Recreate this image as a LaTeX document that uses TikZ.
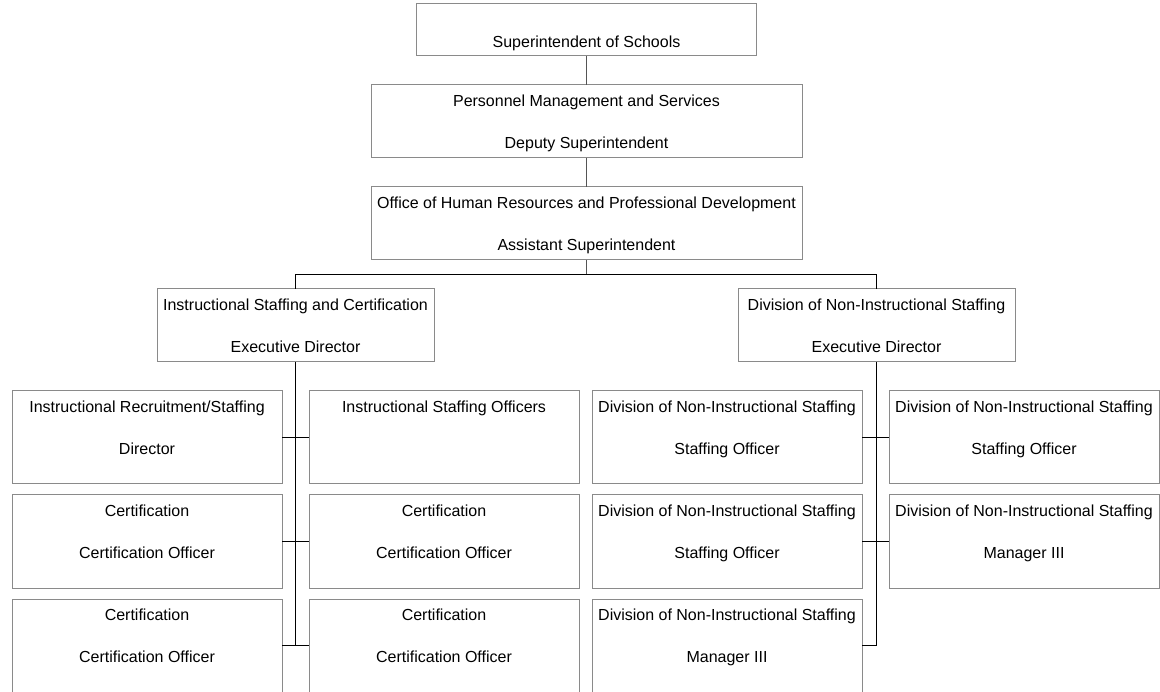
\documentclass[tikz,border=0pt]{standalone}
\usepackage{fontspec}
\setmainfont{Liberation Sans}
\definecolor{boxline}{HTML}{8A8A8A}
\definecolor{uplink}{HTML}{555555}
\tikzset{
  x=1pt, y=-1pt,
  box/.style={draw=boxline, line width=1pt, fill=white, rectangle,
    inner sep=0pt, outer sep=0pt, anchor=north west},
  txt/.style={anchor=base, inner sep=0pt, font=\fontsize{16}{19}\selectfont},
  uplinkline/.style={draw=uplink, line width=1.1pt},
  treeline/.style={draw=black, line width=1.3pt},
}
% box with a heading line and a title line
\newcommand\orgtext[3]{%
  \node[txt] (#1-l1) at ([yshift=-21.5pt]#1.north) {#2};
  \node[txt] (#1-l2) at ([yshift=-63.5pt]#1.north) {#3};}
\begin{document}
\begin{tikzpicture}
\useasboundingbox (0,0) rectangle (1160,692);
\clip (0,0) rectangle (1160,692);

% upper chain
\node[box, minimum width=340pt, minimum height=52pt] (sup) at (416.5,4) {};
\node[txt] (sup-l1) at ([yshift=-43.5pt]sup.north) {Superintendent of Schools};

\node[box, minimum width=431pt, minimum height=73pt] (pms) at (371,85) {};
\orgtext{pms}{Personnel Management and Services}{Deputy Superintendent}

\node[box, minimum width=431pt, minimum height=73pt] (off) at (371,187) {};
\orgtext{off}{Office of Human Resources and Professional Development}{Assistant Superintendent}

% divisions
\node[box, minimum width=277pt, minimum height=73pt] (isc) at (157,289) {};
\orgtext{isc}{Instructional Staffing and Certification}{Executive Director}

\node[box, minimum width=277pt, minimum height=73pt] (dnis) at (738,289) {};
\orgtext{dnis}{Division of Non-Instructional Staffing}{Executive Director}

% instructional units
\tikzset{unit/.style={box, minimum width=270pt, minimum height=93pt}}
\node[unit] (r1a) at (12,391) {};
\orgtext{r1a}{Instructional Recruitment/Staffing}{Director}
\node[unit] (r1b) at (309,391) {};
\node[txt] (r1b-l1) at ([yshift=-21.5pt]r1b.north) {Instructional Staffing Officers};
\node[unit] (r2a) at (12,495) {};
\orgtext{r2a}{Certification}{Certification Officer}
\node[unit] (r2b) at (309,495) {};
\orgtext{r2b}{Certification}{Certification Officer}
\node[unit] (r3a) at (12,599) {};
\orgtext{r3a}{Certification}{Certification Officer}
\node[unit] (r3b) at (309,599) {};
\orgtext{r3b}{Certification}{Certification Officer}

% non-instructional units
\node[unit] (r1c) at (592,391) {};
\orgtext{r1c}{Division of Non-Instructional Staffing}{Staffing Officer}
\node[unit] (r1d) at (889,391) {};
\orgtext{r1d}{Division of Non-Instructional Staffing}{Staffing Officer}
\node[unit] (r2c) at (592,495) {};
\orgtext{r2c}{Division of Non-Instructional Staffing}{Staffing Officer}
\node[unit] (r2d) at (889,495) {};
\orgtext{r2d}{Division of Non-Instructional Staffing}{Manager III}
\node[unit] (r3c) at (592,599) {};
\orgtext{r3c}{Division of Non-Instructional Staffing}{Manager III}

% connectors
\draw[uplinkline] (sup.south) -- (sup.south |- pms.north);
\draw[uplinkline] (pms.south) -- (pms.south |- off.north);
\coordinate (bus) at (586.5,274.5);
\draw[uplinkline] (off.south) -- (off.south |- bus);
\draw[treeline] (isc.north) |- (bus) -| (dnis.north);

\draw[treeline] (isc.south) -- (isc.south |- r3a.east);
\draw[treeline] (r1a.east) -- (r1b.west);
\draw[treeline] (r2a.east) -- (r2b.west);
\draw[treeline] (r3a.east) -- (r3b.west);

\draw[treeline] (dnis.south) -- (dnis.south |- r3c.east);
\draw[treeline] (r1c.east) -- (r1d.west);
\draw[treeline] (r2c.east) -- (r2d.west);
\draw[treeline] (r3c.east) -- (r3c.east -| dnis.south);
\end{tikzpicture}
\end{document}
